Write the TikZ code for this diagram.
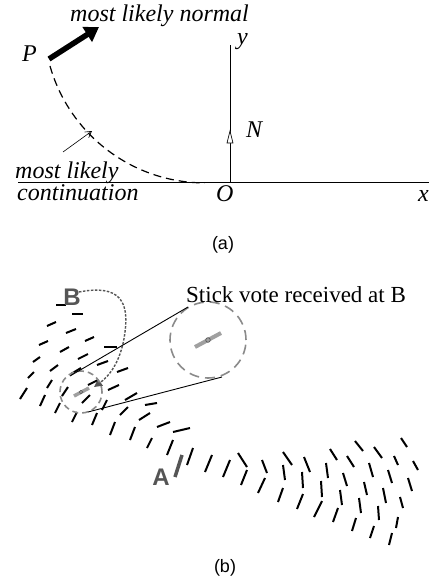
\documentclass[tikz,border=0pt]{standalone}
\usepackage{fontspec}
\setmainfont{Liberation Serif}
\setsansfont{Liberation Sans}
\usetikzlibrary{arrows.meta}
\definecolor{dgray}{HTML}{555555}
\definecolor{mgray}{HTML}{8A8A8A}
\definecolor{lgray}{HTML}{A0A0A0}
\begin{document}
\begin{tikzpicture}[x=1pt,y=-1pt,
  stick/.style={line width=2pt,black},
  itl/.style={inner sep=0pt,anchor=base west,font=\fontsize{24}{24}\selectfont\itshape},
  sub/.style={inner sep=0pt,font=\sffamily\fontsize{18}{18}\selectfont},
  ptlabel/.style={inner sep=0pt,text=dgray,font=\sffamily\bfseries\fontsize{24}{24}\selectfont},
  axis/.style={line width=0.9pt,black},
  zoomline/.style={line width=0.9pt,black},
  smallcirc/.style={mgray,line width=1.6pt,dash pattern=on 6pt off 4pt},
  bigcirc/.style={mgray,line width=1.6pt,dash pattern=on 10pt off 6pt},
  graystick/.style={lgray,line width=3.5pt},
  cont/.style={line width=1.2pt,dash pattern=on 8pt off 5pt}
]
\useasboundingbox (0,0) rectangle (429,583);

% ---------- part (a) ----------
\coordinate (xl) at (18,182);
\coordinate (xr) at (429,182);
\coordinate (o) at (230,182);
\coordinate (yt) at (230,45);
\draw[axis] (xl) -- (xr);
\draw[axis] (o) -- (yt);
\draw[fill=white,line width=0.7pt] (230,131) -- (233,143) -- (227,143) -- cycle;

\coordinate (pstart) at (50,66);
\draw[cont] (pstart) arc[start angle=195.9, end angle=270, radius=161pt];

\coordinate (ha) at (49,59);
\coordinate (hb) at (99,27);
\draw[line width=5.5pt,-{Triangle[length=14pt,width=17pt]}] (ha) -- (hb);

\coordinate (ta) at (63,152);
\coordinate (tb) at (92,131);
\draw[line width=0.6pt,-{Straight Barb[length=6pt,width=7pt]}] (ta) -- (tb);

\node[itl] (normal) at (70,22) {most likely normal};
\node[itl] (P) at (22,62) {P};
\node[itl] (ml) at (15,178) {most likely};
\node[itl] (cont) at (17,200) {continuation};
\node[itl] (O) at (216,201) {O};
\node[itl] (X) at (418,201) {x};
\node[itl] (Y) at (237,45) {y};
\node[itl] (N) at (246,137) {N};
\node[sub] (la) at (223,245) {(a)};

% ---------- part (b) ----------
\foreach \a/\b/\c/\d in {
 56/305/66/305, 72/314/83/314, 47/326/56/322, 66/333/76/329, 85/341/94/337,
 39/345/48/341, 60/352/69/347, 104/347/117/347, 78/359/88/354, 33/362/40/357,
 50/371/58/365, 97/365/108/361, 71/374/81/368, 117/372/128/368, 28/378/34/372,
 47/388/52/380, 20/399/27/388, 88/385/98/380, 108/390/119/385, 62/396/68/387,
 40/406/45/395, 82/403/90/395, 125/400/137/393, 55/413/60/403, 102/410/107/400,
 72/422/77/412, 120/415/128/407, 92/425/97/413, 110/435/115/422, 130/440/135/427,
 145/405/157/403, 139/420/150/413, 157/427/170/422, 173/432/190/428,
 147/448/152/438, 167/455/173/440, 187/465/193/448, 205/472/212/455, 223/477/230/460,
 238/453/247/467, 247/470/241/485, 262/460/267/473, 258/493/265/478,
 283/452/292/465, 283/465/285/480, 278/502/283/488, 304/457/310/472, 302/472/303/488,
 297/509/303/494, 330/449/337/460, 326/463/328/478, 321/481/322/497, 314/517/322/501,
 333/522/338/508, 355/441/363/451, 347/456/354/467, 343/473/347/486, 340/490/342/505,
 374/447/382/458, 369/463/373/477, 364/482/367/495, 359/498/361/513, 352/531/356/518,
 401/438/407/447, 394/456/398/465, 388/470/392/483, 383/488/386/503, 378/506/379/520,
 370/538/374/526, 413/461/418/470, 408/478/412/491, 400/497/403/508, 396/528/398/517,
 389/545/392/533}
 {\draw[stick] (\a,\b) -- (\c,\d);}

% A stick
\coordinate (sa1) at (175,477);
\coordinate (sa2) at (182,455);
\draw[dgray,line width=3.5pt] (sa1) -- (sa2);
\fill[dgray] (178.5,466) circle[radius=1.5pt];
\node[ptlabel] (A) at (161,477) {A};

% B and dotted path
\node[ptlabel] (B) at (72,297) {B};
\coordinate (bs) at (79,292);
\coordinate (be) at (94,387);
\draw[dgray,line width=1.4pt,dash pattern=on 2.5pt off 1.5pt,-{Triangle[length=8pt,width=8pt]}]
  (bs) .. controls (120,284) and (129,302) .. (125,332)
       .. controls (122,357) and (112,374) .. (be);

% small circle
\coordinate (sc) at (81,392);
\draw[smallcirc] (sc) circle[radius=21pt];
\draw[graystick] (74,396) -- (89,388);
\draw[dgray,fill=lgray,line width=0.6pt] (sc) circle[radius=1.8pt];

% big circle
\coordinate (bc) at (208,340);
\draw[bigcirc] (bc) circle[radius=38pt];
\draw[graystick,line width=4pt] (195,347) -- (221,333);
\draw[dgray,fill=lgray,line width=0.7pt] (bc) circle[radius=2.3pt];

% zoom lines
\coordinate (z1a) at (70,376);
\coordinate (z1b) at (188,307);
\coordinate (z2a) at (88,412);
\coordinate (z2b) at (222,377);
\draw[zoomline] (z1a) -- (z1b);
\draw[zoomline] (z2a) -- (z2b);

\node[inner sep=0pt,anchor=base west,font=\fontsize{23}{23}\selectfont] (sv) at (186,302) {Stick vote received at B};
\node[sub] (lb) at (225,568) {(b)};
\end{tikzpicture}
\end{document}
